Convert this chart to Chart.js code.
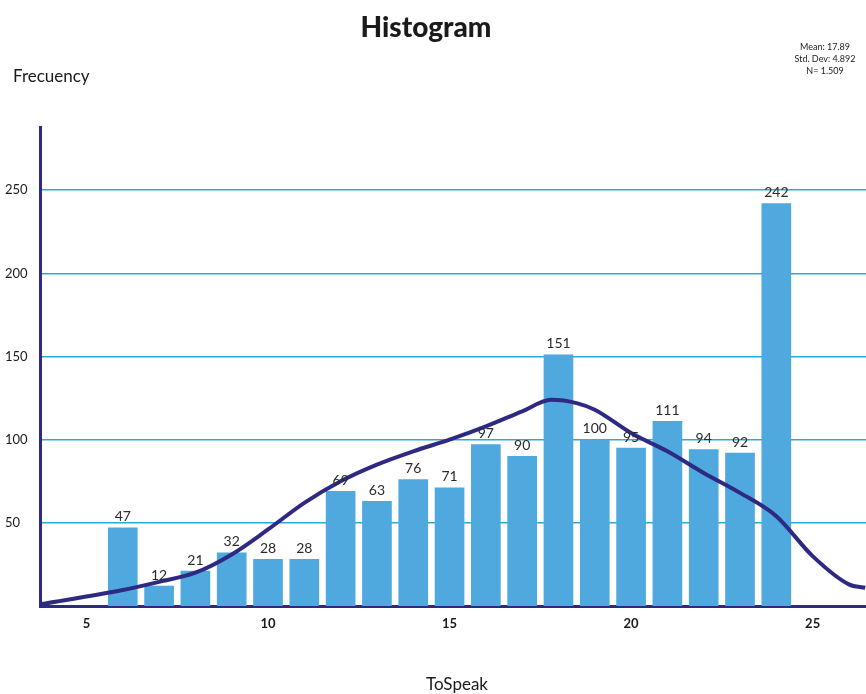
<!DOCTYPE html>
<html>
<head>
<meta charset="utf-8">
<script src="https://cdn.jsdelivr.net/npm/chart.js@4.4.1/dist/chart.umd.min.js"></script>
<style>
    html, body { margin: 0; padding: 0; background: #ffffff; }
    #wrap { width: 866px; height: 694px; }
</style>
</head>
<body>
<div id="wrap"><canvas id="histChart" width="866" height="694"></canvas></div>
<script>
// Histogram data
const binCenters = [6, 7, 8, 9, 10, 11, 12, 13, 14, 15, 16, 17, 18, 19, 20, 21, 22, 23, 24];
const binCounts = [47, 12, 21, 32, 28, 28, 69, 63, 76, 71, 97, 90, 151, 100, 95, 111, 94, 92, 242];

// Fitted curve
const curveX = [3.72, 6, 7, 8, 9, 10, 11, 12, 13, 14, 15, 16, 17, 17.8, 18.5, 19, 20, 21, 22, 23, 24, 25, 26, 26.45];
const curveY = [1, 9.6, 14.5, 20, 31, 46, 62, 75, 85, 93, 100, 108, 117, 124, 122, 118, 104, 93, 80, 68, 54, 30, 13, 11];

const yTicks = [50, 100, 150, 200, 250];
const xTicks = [5, 10, 15, 20, 25];

const statsLines = ['Mean: 17.89', 'Std. Dev: 4.892', 'N= 1.509'];

const barColor = '#4FA8DE';
const lineColor = '#2E2A84';
const gridColor = '#2AA9E0';
const fontFamily = 'Lato, "Open Sans", sans-serif';

// Texts around the plot + value labels
const decorPlugin = {
    id: 'decor',
    afterDatasetsDraw(chart) {
        const ctx = chart.ctx;
        ctx.save();
        ctx.fillStyle = '#2b2b2b';
        ctx.textAlign = 'center';
        ctx.textBaseline = 'bottom';
        ctx.font = '14px ' + fontFamily;
        const meta = chart.getDatasetMeta(1);
        meta.data.forEach((bar, i) => {
            ctx.fillText(String(binCounts[i]), bar.x, bar.y - 4);
        });
        ctx.restore();
    },
    afterDraw(chart) {
        const ctx = chart.ctx;
        ctx.save();
        ctx.fillStyle = '#1a1a1a';
        ctx.textBaseline = 'middle';

        ctx.textAlign = 'center';
        ctx.font = '900 28px ' + fontFamily;
        ctx.fillText('Histogram', 426, 28);

        ctx.textAlign = 'left';
        ctx.font = '17px ' + fontFamily;
        ctx.fillText('Frecuency', 13, 77);

        ctx.textAlign = 'center';
        ctx.font = '17px ' + fontFamily;
        ctx.fillText('ToSpeak', 457, 685);

        ctx.font = '9px ' + fontFamily;
        statsLines.forEach((line, i) => {
            ctx.fillText(line, 825, 47 + i * 12);
        });
        ctx.restore();
    }
};

const ctx = document.getElementById('histChart');

new Chart(ctx, {
    data: {
        datasets: [
            {
                type: 'line',
                data: curveX.map((x, i) => ({ x: x, y: curveY[i] })),
                borderColor: lineColor,
                borderWidth: 4,
                pointRadius: 0,
                tension: 0.4,
                cubicInterpolationMode: 'monotone',
                fill: false,
                order: 0
            },
            {
                type: 'bar',
                data: binCenters.map((x, i) => ({ x: x, y: binCounts[i] })),
                backgroundColor: barColor,
                barThickness: 29,
                order: 1
            }
        ]
    },
    options: {
        responsive: false,
        animation: false,
        layout: {
            padding: { top: 127, right: 0, bottom: 0, left: 5 }
        },
        plugins: {
            legend: { display: false },
            tooltip: { enabled: false }
        },
        scales: {
            x: {
                type: 'linear',
                offset: false,
                min: 3.72,
                max: 26.47,
                afterBuildTicks: scale => { scale.ticks = xTicks.map(v => ({ value: v })); },
                afterFit: scale => { scale.height = 88; },
                grid: { display: false, drawTicks: false, offset: false },
                border: { color: lineColor, width: 3 },
                ticks: {
                    padding: 10,
                    color: '#1a1a1a',
                    font: { family: fontFamily, size: 13, weight: 'bold' }
                }
            },
            y: {
                min: 0,
                max: 288,
                afterBuildTicks: scale => { scale.ticks = yTicks.map(v => ({ value: v })); },
                afterFit: scale => { scale.width = 35; },
                grid: { color: gridColor, lineWidth: 1.5, drawTicks: false },
                border: { color: lineColor, width: 3 },
                ticks: {
                    crossAlign: 'far',
                    padding: 6,
                    color: '#1a1a1a',
                    font: { family: fontFamily, size: 13 }
                }
            }
        }
    },
    plugins: [decorPlugin]
});
</script>
</body>
</html>
